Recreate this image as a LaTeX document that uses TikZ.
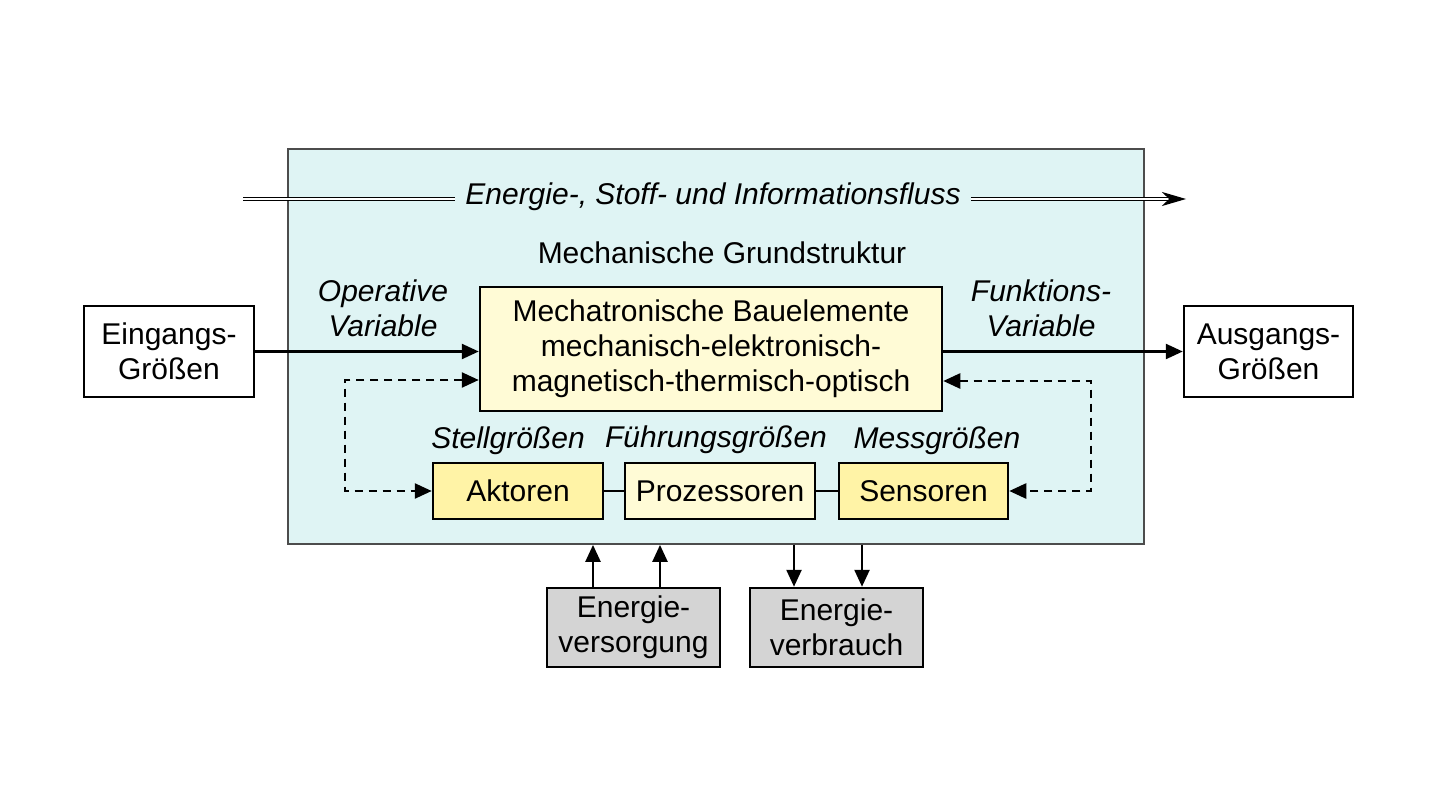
\documentclass[tikz,border=0pt]{standalone}
\usepackage{fontspec}
\setmainfont{Liberation Sans}
\usepackage{xcolor}
\usepackage{tikz}
\usetikzlibrary{arrows.meta}
\usetikzlibrary{calc}
\usetikzlibrary{positioning}
\definecolor{grundcyan}{RGB}{223,244,244}
\definecolor{baugelb}{RGB}{255,251,214}
\definecolor{stellgelb}{RGB}{255,243,166}
\definecolor{energiegrau}{RGB}{212,212,212}

\begin{document}
\begin{tikzpicture}[x=1pt,y=-1pt,
	box/.style={draw,line width=2.5pt,align=center,inner sep=0pt,font=\fontsize{30}{35}\selectfont},
	lbl/.style={align=center,inner sep=0pt,font=\fontsize{30}{35}\selectfont\itshape},
	pfeil/.style={line width=2.5pt,-{Triangle[length=17pt,width=15pt]}},
	strich/.style={line width=2.5pt,dash pattern=on 8pt off 6pt,{Triangle[length=17pt,width=15pt]}-{Triangle[length=17pt,width=15pt]}},
	doppel/.style={line width=1.2pt,double=white,double distance=1.8pt}]
	\useasboundingbox (0,0) rectangle (1440,810);
	
	% mechanische Grundstruktur
	\node [box,fill=grundcyan,draw=black!70,line width=1.8pt,minimum width=856pt,minimum height=395pt] (grund) at (716,346.5) {};
	
	\node [lbl,inner xsep=10pt] (fluss) at (713,197) {Energie-, Stoff- und Informationsfluss};
	\coordinate [] (flussanfang) at (243,199);
	\coordinate [] (flussende) at (1186,199);
	\draw[doppel] (flussanfang) -- (flussanfang -| fluss.west);
	\draw[doppel,-{Stealth[length=24pt,width=14pt,inset=7pt]}] (flussende -| fluss.east) -- (flussende);
	
	\node [box,draw=none] (grundtext) at (722,253) {Mechanische Grundstruktur};
	
	\node [box,fill=baugelb,minimum width=462pt,minimum height=124pt] (bau) at (711,349) {Mechatronische Bauelemente\\mechanisch-elektronisch-\\magnetisch-thermisch-optisch};
	
	% Ein- und Ausgang
	\node [box,fill=white,minimum width=170pt,minimum height=91pt] (eingang) at (169,351.5) {Eingangs-\\Größen};
	\node [box,fill=white,minimum width=169pt,minimum height=91pt] (ausgang) at (1268.5,351.5) {Ausgangs-\\Größen};
	\node [lbl] (operativ) at (383,308) {Operative\\Variable};
	\node [lbl] (funktion) at (1041,308) {Funktions-\\Variable};
	\draw[pfeil] (eingang.east) -- (eingang.east -| bau.west);
	\draw[pfeil] (bau.east |- ausgang.west) -- (ausgang.west);
	
	% Aktoren, Prozessoren, Sensoren
	\node [box,fill=stellgelb,minimum width=170pt,minimum height=56pt] (aktoren) at (518,491) {Aktoren};
	\node [box,fill=baugelb,minimum width=190pt,minimum height=56pt] (prozessoren) at (720,491) {Prozessoren};
	\node [box,fill=stellgelb,minimum width=169pt,minimum height=56pt] (sensoren) at (923.5,491) {Sensoren};
	\node [lbl] (stell) at (508,441) {Stellgrößen};
	\node [lbl] (fuehrung) at (716,440) {Führungsgrößen};
	\node [lbl] (mess) at (937,441) {Messgrößen};
	\draw[line width=2.5pt] (aktoren) -- (prozessoren);
	\draw[line width=2.5pt] (prozessoren) -- (sensoren);
	
	\coordinate [] (rueckl) at (345,380);
	\coordinate [] (rueckr) at (1091,381);
	\draw[strich] (rueckl -| bau.west) -- (rueckl) |- (aktoren.west);
	\draw[strich] (rueckr -| bau.east) -- (rueckr) |- (sensoren.east);
	
	% Energie
	\node [box,fill=energiegrau,minimum width=173pt,minimum height=79pt] (versorgung) at (633.5,627.5) {Energie-\\versorgung};
	\node [box,fill=energiegrau,minimum width=173pt,minimum height=79pt] (verbrauch) at (836.5,627.5) {Energie-\\verbrauch};
	\draw[pfeil] ([xshift=-40.5pt]versorgung.north) -- ([xshift=-40.5pt]versorgung.north |- grund.south);
	\draw[pfeil] ([xshift=26.5pt]versorgung.north) -- ([xshift=26.5pt]versorgung.north |- grund.south);
	\draw[pfeil] ([xshift=-42.5pt]verbrauch.north |- grund.south) -- ([xshift=-42.5pt]verbrauch.north);
	\draw[pfeil] ([xshift=25.5pt]verbrauch.north |- grund.south) -- ([xshift=25.5pt]verbrauch.north);
	
\end{tikzpicture}
\end{document}
